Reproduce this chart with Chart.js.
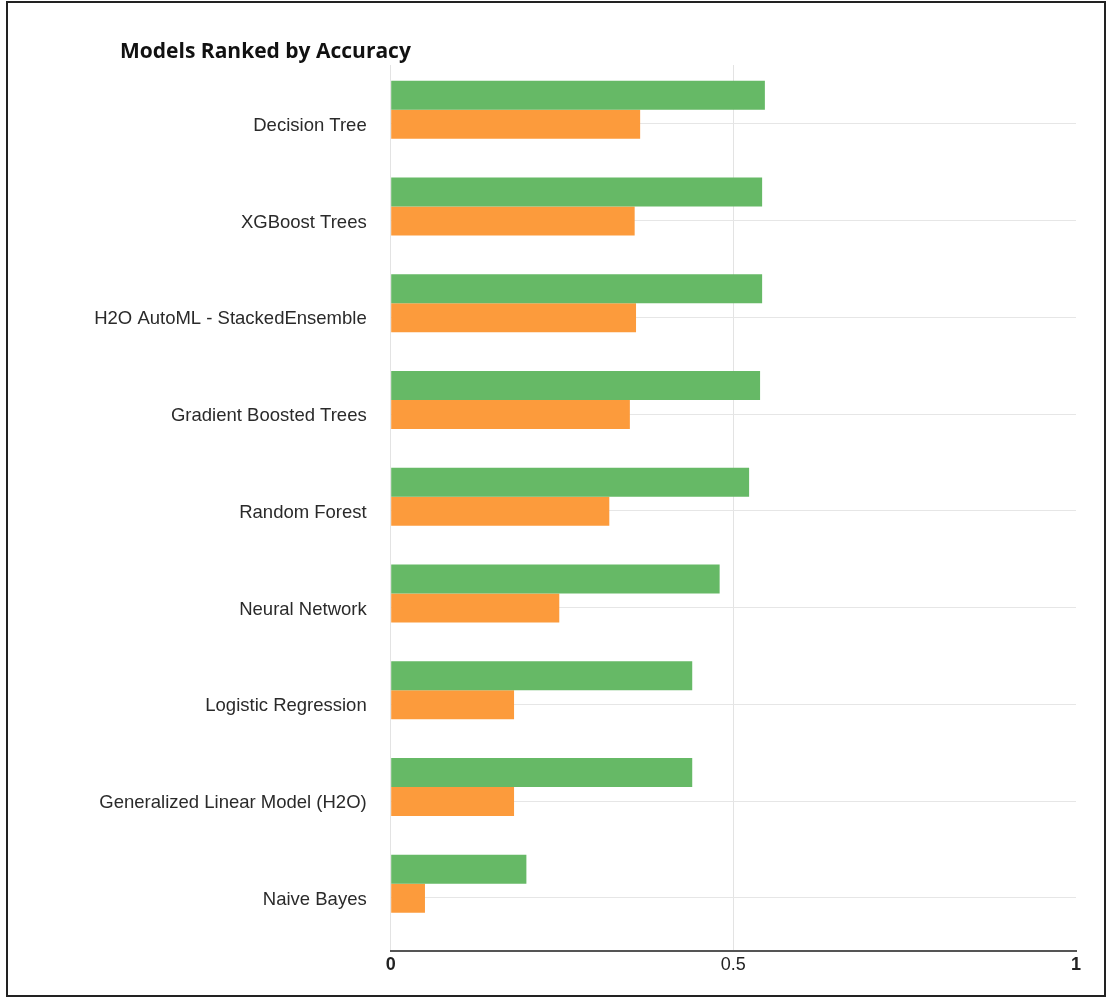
<!DOCTYPE html>
<html>
<head>
<meta charset="utf-8">
<title>Models Ranked by Accuracy</title>
<script src="https://cdn.jsdelivr.net/npm/chart.js@4.4.1/dist/chart.umd.min.js"></script>
<style>
  html, body { margin: 0; padding: 0; background: #fff; }
  #wrap { position: absolute; left: 0; top: 0; width: 1113px; height: 998px; }
  #frame {
    position: absolute; left: 6px; top: 1px; width: 1100px; height: 996px;
    box-sizing: border-box; border: 2px solid #222; pointer-events: none;
  }
  #title {
    position: absolute; left: 120px; top: 40px; margin: 0;
    font: 700 21px/1 "Open Sans", sans-serif; color: #111; white-space: nowrap;
  }
</style>
</head>
<body>
<div id="wrap"><canvas id="chart"></canvas></div>
<div id="frame"></div>
<h1 id="title">Models Ranked by Accuracy</h1>
<script>
// model names, top to bottom
const models = [
  'Decision Tree',
  'XGBoost Trees',
  'H2O AutoML - StackedEnsemble',
  'Gradient Boosted Trees',
  'Random Forest',
  'Neural Network',
  'Logistic Regression',
  'Generalized Linear Model (H2O)',
  'Naive Bayes'
];
const greenValues  = [0.546, 0.542, 0.542, 0.539, 0.523, 0.480, 0.440, 0.440, 0.198];
const orangeValues = [0.364, 0.356, 0.358, 0.349, 0.319, 0.246, 0.180, 0.180, 0.050];
const xTicks = [0, 0.5, 1];

// row labels and their gridlines sit a bit below the centre of each bar pair
const LABEL_SHIFT = 0.146;

const toPoints = (vals) => vals.map((v, i) => ({ x: v, y: i }));

new Chart(document.getElementById('chart'), {
  type: 'bar',
  data: {
    datasets: [
      { label: 'green', data: toPoints(greenValues), backgroundColor: '#66b966', borderWidth: 0 },
      { label: 'orange', data: toPoints(orangeValues), backgroundColor: '#fc9b3c', borderWidth: 0 }
    ]
  },
  options: {
    indexAxis: 'y',
    responsive: true,
    maintainAspectRatio: false,
    animation: false,
    layout: { padding: { top: 65, right: 37, bottom: 0, left: 0 } },
    datasets: { bar: { categoryPercentage: 0.6, barPercentage: 1.0 } },
    plugins: { legend: { display: false }, tooltip: { enabled: false }, title: { display: false } },
    scales: {
      x: {
        type: 'linear', min: 0, max: 1, z: 1,
        afterBuildTicks: (axis) => { axis.ticks = xTicks.map((v) => ({ value: v })); },
        afterFit: (axis) => { axis.height = 47; },
        grid: {
          drawTicks: false,
          color: (ctx) => (ctx.tick && ctx.tick.value === 1 ? 'rgba(0,0,0,0)' : 'rgba(0,0,0,0.11)')
        },
        border: { display: true, color: '#555', width: 2 },
        ticks: {
          padding: 3,
          color: '#222',
          callback: (v) => String(v),
          font: (ctx) => ({
            family: '"Liberation Sans", Arial, sans-serif',
            size: 18,
            weight: ctx.tick && ctx.tick.value === 0.5 ? 'normal' : 'bold'
          })
        }
      },
      y: {
        type: 'linear', reverse: true, min: -0.462, max: 8.696,
        offset: false,
        afterBuildTicks: (axis) => { axis.ticks = models.map((_, i) => ({ value: i + LABEL_SHIFT })); },
        afterFit: (axis) => { axis.width = 390.7; },
        grid: { offset: false, drawTicks: false, color: '#e6e6e6' },
        border: { display: false },
        ticks: {
          padding: 24,
          labelOffset: 2,
          autoSkip: false,
          color: '#2a2a2a',
          font: { family: '"Liberation Sans", Arial, sans-serif', size: 18.5 },
          callback: (v, i) => models[i]
        }
      }
    }
  }
});
</script>
</body>
</html>
